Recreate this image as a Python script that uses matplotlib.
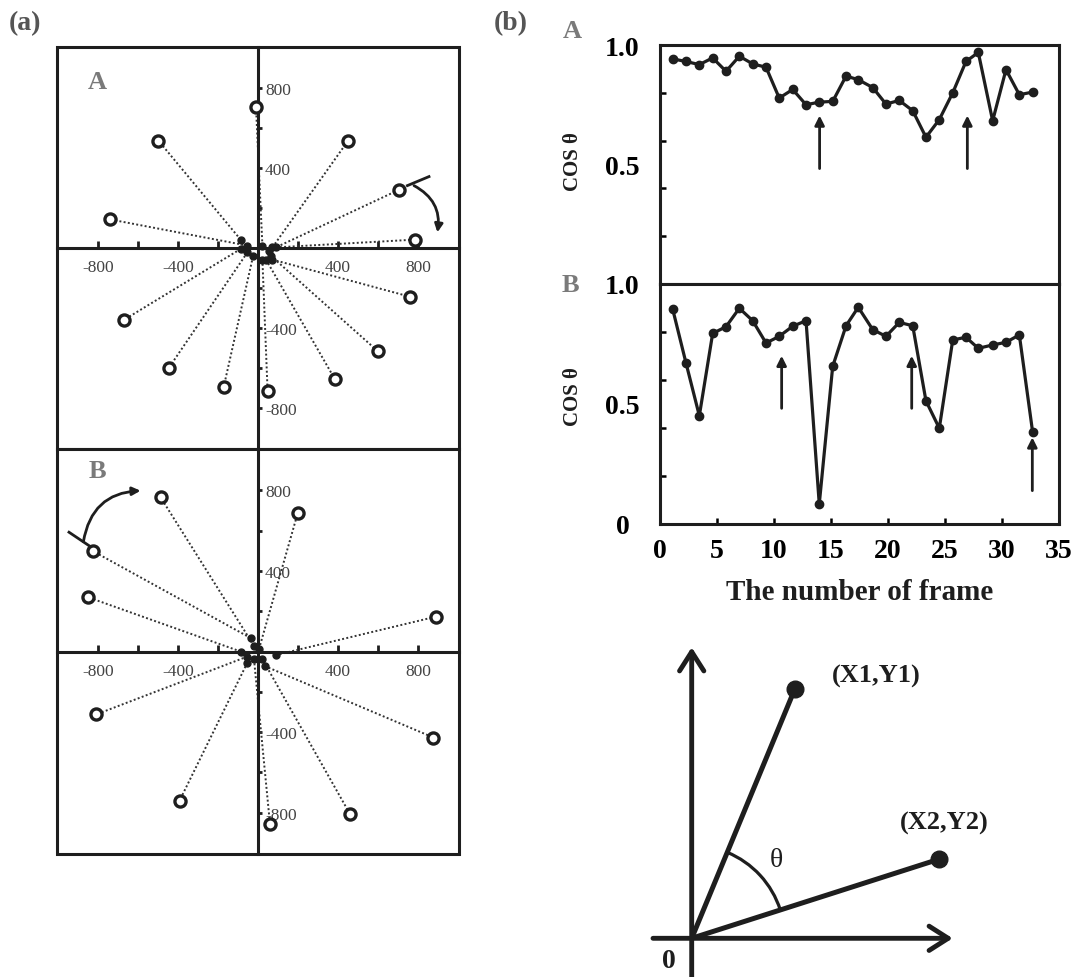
import matplotlib
matplotlib.use("Agg")
import matplotlib.pyplot as plt
from matplotlib import patches

plt.rcParams['font.family'] = ['Liberation Serif', 'DejaVu Serif']

# panel (a): end points (open) and start points (filled) of the vectors
outer_a_x = [-10, -498, 448, 707, -740, 787, 758, -668, 600, -445, 385, -172, 48]
outer_a_y = [705, 537, 533, 292, 143, 42, -243, -358, -517, -598, -657, -697, -717]
inner_a_x = [22, -87, 72, 55, -53, 88, 72, -87, 63, -53, 40, -25, 22]
inner_a_y = [12, 42, 3, -13, 12, 3, -58, -5, -38, -22, -58, -42, -58]

outer_b_x = [-487, 198, -825, -852, 890, -808, 877, -392, 460, 60]
outer_b_y = [765, 685, 498, 270, 173, -312, -427, -740, -807, -857]
inner_b_x = [-20, 5, -37, -87, 88, -53, 33, -53, 22, -20]
inner_b_y = [28, 12, 67, 0, -18, -25, -72, -55, -38, -38]

scatter_ticks = [-800, -400, 400, 800]
scatter_minor = [-600, -200, 200, 600]
scatter_labels = ['-800', '-400', '400', '800']

# panel (b): cos theta per frame
frames = [1.11, 2.28, 3.45, 4.62, 5.79, 6.96, 8.13, 9.30, 10.46, 11.64,
          12.81, 13.97, 15.15, 16.32, 17.39, 18.66, 19.82, 20.99, 22.17,
          23.33, 24.50, 25.68, 26.84, 27.92, 29.18, 30.35, 31.52, 32.69]
cos_a = [0.942, 0.931, 0.918, 0.946, 0.890, 0.953, 0.921, 0.907, 0.778, 0.814,
         0.750, 0.761, 0.764, 0.870, 0.855, 0.822, 0.753, 0.768, 0.725,
         0.614, 0.688, 0.800, 0.931, 0.969, 0.683, 0.897, 0.792, 0.803]
cos_b = [0.896, 0.671, 0.451, 0.794, 0.822, 0.899, 0.847, 0.754, 0.782, 0.824,
         0.847, 0.083, 0.657, 0.826, 0.903, 0.810, 0.782, 0.840, 0.826,
         0.513, 0.399, 0.767, 0.778, 0.732, 0.746, 0.757, 0.788, 0.382]

# arrows marking frames: (frame, tail, tip)
arrows_a = [(14.0, 0.483, 0.705), (26.96, 0.483, 0.705)]
arrows_b = [(10.67, 0.482, 0.701), (22.08, 0.482, 0.701), (32.66, 0.139, 0.361)]

# schematic vectors
vec1 = (103, 249)
vec2 = (247, 79)

W, H = 1079, 978
fig = plt.figure(figsize=(W / 100, H / 100), dpi=100)
dark = '#1e1e1e'


def fig_rect(x0, y0, x1, y1):
    return [x0 / W, 1 - y1 / H, (x1 - x0) / W, (y1 - y0) / H]


def vector_panel(rect, ox, oy, ix, iy, letter, letter_y):
    ax = fig.add_axes(rect)
    ax.set_xlim(-1005, 1005)
    ax.set_ylim(-1005, 1005)
    for sx, sy, ex, ey in zip(ix, iy, ox, oy):
        ax.plot([sx, ex], [sy, ey], linestyle=(0, (1, 1.2)), lw=1.4, color='#333333', zorder=2)
    ax.plot(ix, iy, 'o', ms=5, color=dark, zorder=3)
    ax.plot(ox, oy, 'o', ms=8, mfc='white', mec=dark, mew=2.4, zorder=4)

    ax.spines['right'].set_position(('data', 0))
    ax.spines['bottom'].set_position(('data', 0))
    ax.spines['left'].set_visible(False)
    ax.spines['top'].set_visible(False)
    for s in ('right', 'bottom'):
        ax.spines[s].set_linewidth(2.2)
        ax.spines[s].set_color(dark)
    ax.add_patch(patches.Rectangle((0, 0), 1, 1, transform=ax.transAxes, fill=False,
                                   lw=2.2, edgecolor=dark, clip_on=False, zorder=5))
    ax.yaxis.tick_right()
    ax.set_xticks(scatter_ticks)
    ax.set_xticklabels(scatter_labels)
    ax.set_xticks(scatter_minor, minor=True)
    ax.set_yticks(scatter_ticks)
    ax.set_yticklabels(scatter_labels)
    ax.set_yticks(scatter_minor, minor=True)
    ax.tick_params(axis='x', which='both', direction='in', length=5, width=2, pad=8,
                   labelsize=12.5, labelcolor='#444444', color=dark)
    ax.tick_params(axis='y', which='both', direction='out', length=3, width=2, pad=2,
                   labelsize=12.5, labelcolor='#444444', color=dark)
    ax.text(0.101, letter_y, letter, transform=ax.transAxes, fontsize=19, fontweight='bold',
            color='#7a7a7a', ha='center', va='center')
    return ax


ax_a1 = vector_panel(fig_rect(57, 48, 459, 450), outer_a_x, outer_a_y,
                     inner_a_x, inner_a_y, 'A', 0.913)
ax_a2 = vector_panel(fig_rect(57, 450, 459, 855), outer_b_x, outer_b_y,
                     inner_b_x, inner_b_y, 'B', 0.947)

# rotation hints
ax_a1.plot([747, 855], [312, 357], color=dark, lw=2)
ax_a1.annotate('', xy=(897, 78), xytext=(780, 312),
               arrowprops=dict(arrowstyle='-|>', lw=2, color=dark, mutation_scale=12,
                               shrinkA=0, shrinkB=0, connectionstyle='arc3,rad=-0.35'))
ax_a2.plot([-945, -837], [592, 520], color=dark, lw=2)
ax_a2.annotate('', xy=(-587, 798), xytext=(-873, 545),
               arrowprops=dict(arrowstyle='-|>', lw=2, color=dark, mutation_scale=12,
                               shrinkA=0, shrinkB=0, connectionstyle='arc3,rad=-0.4'))


def cos_panel(rect, values, arrows, yticks, ylabels, bottom):
    ax = fig.add_axes(rect)
    ax.plot(frames, values, '-o', color=dark, lw=2.3, ms=6, zorder=3)
    ax.set_xlim(0, 35)
    ax.set_ylim(0, 1.0)
    for s in ax.spines.values():
        s.set_linewidth(2.2)
        s.set_color(dark)
    ax.set_yticks(yticks)
    ax.set_yticklabels(ylabels)
    ax.set_yticks([0.2, 0.4, 0.6, 0.8], minor=True)
    ax.tick_params(axis='y', which='major', length=0, pad=27, labelsize=20)
    ax.tick_params(axis='y', which='minor', direction='in', length=4, width=1.8)
    for lab in ax.get_yticklabels():
        lab.set_ha('center')
        lab.set_fontweight('bold')
    if bottom:
        ax.set_xticks(range(0, 36, 5))
        ax.tick_params(axis='x', direction='in', length=4, width=1.8, pad=10, labelsize=20)
        for lab in ax.get_xticklabels():
            lab.set_fontweight('bold')
    else:
        ax.set_xticks([])
    for fx, y0, y1 in arrows:
        ax.annotate('', xy=(fx, y1), xytext=(fx, y0),
                    arrowprops=dict(arrowstyle='-|>', lw=2, color=dark, mutation_scale=14,
                                    shrinkA=0, shrinkB=0))
    return ax


cos_panel(fig_rect(660, 46, 1059, 285), cos_a, arrows_a, [0.5, 1.0], ['0.5', '1.0'], False)
cos_panel(fig_rect(660, 285, 1059, 525), cos_b, arrows_b, [0, 0.5, 1.0], ['0', '0.5', '1.0'], True)

fig.text(573 / W, 1 - 162 / H, 'COS θ', rotation=90, ha='center', va='center',
         fontsize=15, fontweight='bold', color=dark)
fig.text(573 / W, 1 - 397 / H, 'COS θ', rotation=90, ha='center', va='center',
         fontsize=15, fontweight='bold', color=dark)
fig.text(860 / W, 1 - 593 / H, 'The number of frame', ha='center', va='center',
         fontsize=21, fontweight='bold', color=dark)

fig.text(25 / W, 1 - 24 / H, '(a)', ha='center', va='center', fontsize=20,
         fontweight='bold', color='#555555')
fig.text(511 / W, 1 - 24 / H, '(b)', ha='center', va='center', fontsize=20,
         fontweight='bold', color='#555555')
fig.text(572 / W, 1 - 32 / H, 'A', ha='center', va='center', fontsize=19,
         fontweight='bold', color='#7a7a7a')
fig.text(570 / W, 1 - 285 / H, 'B', ha='center', va='center', fontsize=19,
         fontweight='bold', color='#7a7a7a')

# schematic of the angle between two vectors
ax_d = fig.add_axes(fig_rect(640, 630, 980, 978))
ax_d.set_xlim(-51.7, 288.3)
ax_d.set_ylim(-38.7, 309.3)
ax_d.axis('off')
axis_arrow = dict(arrowstyle='->,head_length=0.55,head_width=0.35', lw=3.5, color=dark,
                  mutation_scale=25, shrinkA=0, shrinkB=0)
ax_d.annotate('', xy=(0, 291), xytext=(0, -38.7), arrowprops=axis_arrow)
ax_d.annotate('', xy=(261, 0), xytext=(-38.7, 0), arrowprops=axis_arrow)
for vx, vy in (vec1, vec2):
    ax_d.plot([0, vx], [0, vy], color=dark, lw=3.6, solid_capstyle='round')
    ax_d.plot([vx], [vy], 'o', ms=12, color=dark)
ax_d.add_patch(patches.Arc((0, 0), 186, 186, theta1=17.8, theta2=67.5, lw=2.3, color=dark))
ax_d.text(85, 79, 'θ', fontsize=20, ha='center', va='center', color=dark)
ax_d.text(185, 263, '(X1,Y1)', fontsize=19, fontweight='bold', ha='center', va='center', color=dark)
ax_d.text(253, 116, '(X2,Y2)', fontsize=19, fontweight='bold', ha='center', va='center', color=dark)
ax_d.text(-23, -22, '0', fontsize=20, fontweight='bold', ha='center', va='center', color=dark)

fig.savefig('out.png', dpi=100)
